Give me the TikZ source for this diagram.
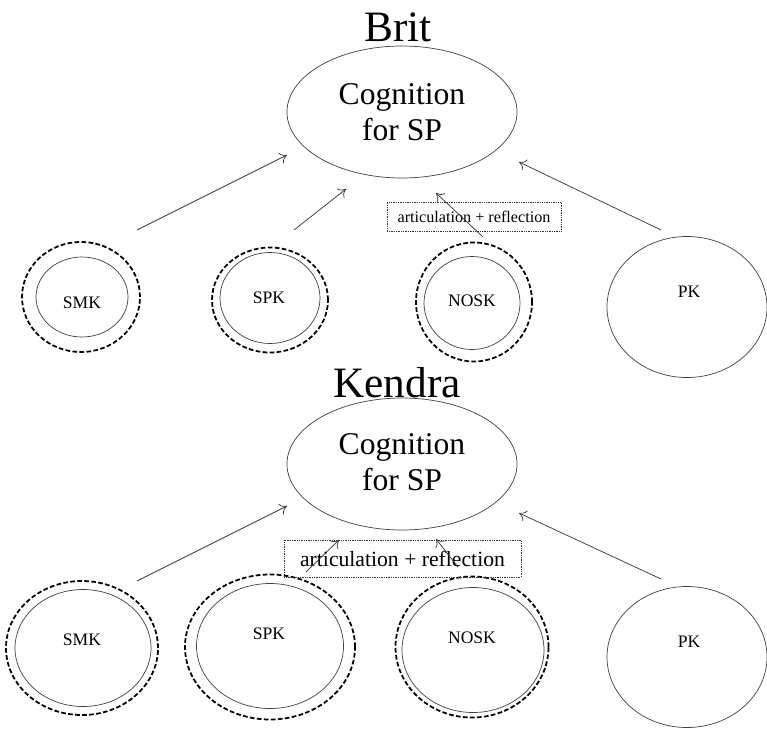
\documentclass[tikz,border=0pt]{standalone}
\usepackage{fontspec}
\setmainfont{Liberation Serif}
\usetikzlibrary{shapes.geometric,arrows.meta}

\begin{document}
\begin{tikzpicture}[x=0.03cm,y=-0.03cm,
    oval/.style={draw=black!75,line width=0.6pt,ellipse,inner sep=0pt},
    know/.style={oval,draw=black,line width=1.5pt,dash pattern=on 4pt off 2pt},
    arr/.style={draw=black!80,line width=0.6pt,-{To[length=6pt,width=10pt]}},
    refl/.style={draw=black!80,line width=0.5pt,densely dotted,inner sep=0pt},
    title/.style={font=\fontsize{37}{40}\selectfont},
    cogtext/.style={font=\fontsize{27}{31}\selectfont,align=center},
    small/.style={font=\fontsize{15}{17}\selectfont}]
    \useasboundingbox (0,0) rectangle (767,729);

        % Brit
        \node[title] (brit) at (398,27) {Brit};
        \node[oval,minimum width=6.9cm,minimum height=3.96cm] (cog1) at (402,112) {};
        \node[cogtext] (cogt1) at (402,112) {Cognition\\for SP};
        %SMK
        \node[know,minimum width=3.54cm,minimum height=3.3cm] (smk1o) at (81,297) {};
        \node[oval,minimum width=2.76cm,minimum height=2.4cm] (smk1) at (82,297) {};
        \node[small] (smkt1) at (82,303) {SMK};
        %SPK
        \node[know,minimum width=3.48cm,minimum height=3.15cm] (spk1o) at (270,300) {};
        \node[oval,minimum width=3.0cm,minimum height=2.73cm] (spk1) at (270,298) {};
        \node[small] (spkt1) at (269,298) {SPK};
        %NOSK
        \node[know,minimum width=3.48cm,minimum height=3.57cm] (nosk1o) at (474,302) {};
        \node[oval,minimum width=2.88cm,minimum height=2.79cm] (nosk1) at (472,303) {};
        \node[small] (noskt1) at (472,301) {NOSK};
        %PK
        \node[oval,minimum width=4.8cm,minimum height=4.23cm] (pk1) at (687,307) {};
        \node[small] (pkt1) at (689,292) {PK};
        % articulation + reflection
        \node[refl,minimum width=5.22cm,minimum height=0.87cm,font=\fontsize{13.8}{16}\selectfont] (ar1) at (474,217) {articulation + reflection};
        % arrows
        \coordinate (a1) at (137,230); \coordinate (b1) at (287,155);
        \coordinate (a2) at (294,230); \coordinate (b2) at (346,189);
        \coordinate (a3) at (483,237); \coordinate (b3) at (436,193);
        \coordinate (a4) at (661,230); \coordinate (b4) at (519,162);
        \draw[arr] (a1) -- (b1);
        \draw[arr] (a2) -- (b2);
        \draw[arr] (a3) -- (b3);
        \draw[arr] (a4) -- (b4);

        % Kendra
        \node[title] (kendra) at (397,383) {Kendra};
        \node[oval,minimum width=6.9cm,minimum height=3.96cm] (cog2) at (402,464) {};
        \node[cogtext] (cogt2) at (402,462) {Cognition\\for SP};
        %SMK
        \node[know,minimum width=4.56cm,minimum height=4.02cm] (smk2o) at (82,648) {};
        \node[oval,minimum width=4.08cm,minimum height=3.51cm] (smk2) at (83,648) {};
        \node[small] (smkt2) at (82,640) {SMK};
        %SPK
        \node[know,minimum width=5.1cm,minimum height=4.35cm] (spk2o) at (270,647) {};
        \node[oval,minimum width=4.41cm,minimum height=3.75cm] (spk2) at (270,646) {};
        \node[small] (spkt2) at (269,634) {SPK};
        %NOSK
        \node[know,minimum width=4.59cm,minimum height=4.23cm] (nosk2o) at (472,647) {};
        \node[oval,minimum width=4.26cm,minimum height=3.75cm] (nosk2) at (473,650) {};
        \node[small] (noskt2) at (472,638) {NOSK};
        %PK
        \node[oval,minimum width=4.8cm,minimum height=4.23cm] (pk2) at (687,657) {};
        \node[small] (pkt2) at (689,642) {PK};
        % articulation + reflection
        \node[refl,minimum width=7.11cm,minimum height=1.11cm,font=\fontsize{18.5}{21}\selectfont] (ar2) at (402.5,558.5) {articulation + reflection};
        % arrows
        \coordinate (c1) at (137,581); \coordinate (d1) at (287,506);
        \coordinate (c2) at (306,572); \coordinate (d2) at (339,540);
        \coordinate (c3) at (458,567); \coordinate (d3) at (436,539);
        \coordinate (c4) at (661,579); \coordinate (d4) at (519,513);
        \draw[arr] (c1) -- (d1);
        \draw[arr] (c2) -- (d2);
        \draw[arr] (c3) -- (d3);
        \draw[arr] (c4) -- (d4);
\end{tikzpicture}
\end{document}
